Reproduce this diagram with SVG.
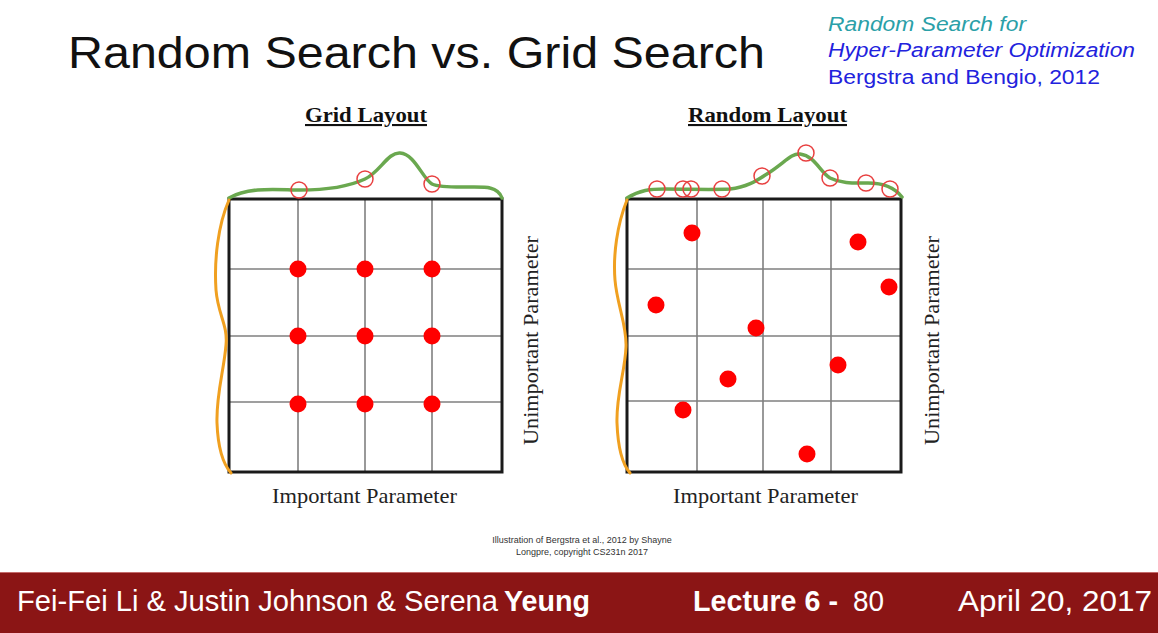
<svg xmlns="http://www.w3.org/2000/svg" width="1158" height="633" viewBox="0 0 1158 633">
<style>
.grid{stroke:#808080;stroke-width:1.6;fill:none}
.box{stroke:#1a1a1a;stroke-width:3;fill:none}
.green{stroke:#6aa84f;stroke-width:3.5;fill:none;stroke-linecap:round}
.orange{stroke:#f0a020;stroke-width:3;fill:none;stroke-linecap:round}
.ring{stroke:#e84040;stroke-width:1.5;fill:none}
.dot{fill:#ff0000}
.ttl{font-family:"Liberation Serif",serif;font-weight:bold;font-size:21px;text-decoration:underline;fill:#111}
.axis{font-family:"Liberation Serif",serif;font-size:21px;fill:#222}
.foot{font-family:"Liberation Sans",Arial,sans-serif;fill:#fff;font-size:29px}
.fb{font-weight:bold}
</style>
<rect width="1158" height="633" fill="#fff"/>
<g id="title">
<text x="68" y="68" font-family="Liberation Sans,Arial,sans-serif" font-size="44" fill="#111" textLength="697" lengthAdjust="spacingAndGlyphs">Random Search vs. Grid Search</text>
</g>
<g id="reference" font-family="Liberation Sans,Arial,sans-serif" font-size="20">
<text x="828" y="31" fill="#2aa0a8" font-style="italic" textLength="198" lengthAdjust="spacingAndGlyphs">Random Search for</text>
<text x="828" y="57" fill="#2222dd" font-style="italic" textLength="307" lengthAdjust="spacingAndGlyphs">Hyper-Parameter Optimization</text>
<text x="828" y="84" fill="#2222dd" textLength="272" lengthAdjust="spacingAndGlyphs">Bergstra and Bengio, 2012</text>
</g>
<g id="grid-layout">
<text class="ttl" x="305" y="122" textLength="122" lengthAdjust="spacingAndGlyphs">Grid Layout</text>
<path class="grid" d="M298 199V473M365 199V473M432 199V473M229 269H502M229 336H502M229 402H502"/>
<rect class="box" x="229" y="199" width="273" height="273"/>
<path class="green" d="M229 198 C250 186 280 190 300 190 C330 190 350 186 365 179 C380 172 388 152 400 153 C415 154 422 178 432 184 C445 190 480 185 490 188 C498 190 501 195 502 198"/>
<path class="orange" d="M229 200 C218 225 214 260 216 290 C218 315 228 325 226 345 C224 370 216 395 217 423 C218 450 224 465 231 473"/>
<circle class="ring" cx="299" cy="190" r="8"/>
<circle class="ring" cx="365" cy="179" r="8"/>
<circle class="ring" cx="432" cy="184" r="8"/>
<g class="dot">
<circle cx="298" cy="269" r="8.5"/><circle cx="365" cy="269" r="8.5"/><circle cx="432" cy="269" r="8.5"/>
<circle cx="298" cy="336" r="8.5"/><circle cx="365" cy="336" r="8.5"/><circle cx="432" cy="336" r="8.5"/>
<circle cx="298" cy="404" r="8.5"/><circle cx="365" cy="404" r="8.5"/><circle cx="432" cy="404" r="8.5"/>
</g>
<text class="axis" x="272" y="503" textLength="185" lengthAdjust="spacingAndGlyphs">Important Parameter</text>
<text class="axis" transform="translate(538 445) rotate(-90)" textLength="209" lengthAdjust="spacingAndGlyphs">Unimportant Parameter</text>
</g>
<g id="random-layout">
<text class="ttl" x="688" y="122" textLength="159" lengthAdjust="spacingAndGlyphs">Random Layout</text>
<path class="grid" d="M697 199V473M763 199V473M831 199V473M627 269H901M627 336H901M627 401H901"/>
<rect class="box" x="627" y="199" width="274" height="273"/>
<path class="green" d="M627 198 C640 190 650 189 665 189 C690 189 710 190 730 189 C750 187 760 178 770 172 C785 162 792 153 800 154 C815 156 820 172 830 178 C842 184 855 183 868 183 C885 183 895 188 902 197"/>
<path class="orange" d="M627 200 C617 225 613 255 615 280 C617 305 627 325 626 347 C625 372 616 395 617 423 C618 450 623 465 630 473"/>
<g>
<circle class="ring" cx="657" cy="189" r="8"/><circle class="ring" cx="683" cy="189" r="8"/><circle class="ring" cx="691" cy="189" r="8"/>
<circle class="ring" cx="722" cy="189" r="8"/><circle class="ring" cx="762" cy="176" r="8"/><circle class="ring" cx="806" cy="153" r="8"/>
<circle class="ring" cx="830" cy="178" r="8"/><circle class="ring" cx="866" cy="183" r="8"/><circle class="ring" cx="890" cy="189" r="8"/>
</g>
<g class="dot">
<circle cx="692" cy="233" r="8.5"/><circle cx="858" cy="242" r="8.5"/><circle cx="889" cy="287" r="8.5"/>
<circle cx="656" cy="305" r="8.5"/><circle cx="756" cy="328" r="8.5"/><circle cx="838" cy="365" r="8.5"/>
<circle cx="728" cy="379" r="8.5"/><circle cx="683" cy="410" r="8.5"/><circle cx="807" cy="454" r="8.5"/>
</g>
<text class="axis" x="673" y="503" textLength="185" lengthAdjust="spacingAndGlyphs">Important Parameter</text>
<text class="axis" transform="translate(939 445) rotate(-90)" textLength="209" lengthAdjust="spacingAndGlyphs">Unimportant Parameter</text>
</g>
<g id="caption" font-family="Liberation Sans,Arial,sans-serif" font-size="9" fill="#333" text-anchor="middle">
<text x="582" y="543">Illustration of Bergstra et al., 2012 by Shayne</text>
<text x="582" y="555">Longpre, copyright CS231n 2017</text>
</g>
<g id="footer">
<rect x="0" y="572" width="1158" height="61" fill="#8b1515"/>
<line x1="0" y1="572.5" x2="1158" y2="572.5" stroke="#c46a6a" stroke-width="1"/>
<text class="foot" x="17" y="611" textLength="481" lengthAdjust="spacingAndGlyphs">Fei-Fei Li &amp; Justin Johnson &amp; Serena</text>
<text class="foot fb" x="504" y="611" textLength="86" lengthAdjust="spacingAndGlyphs">Yeung</text>
<text class="foot fb" x="693" y="611" textLength="145" lengthAdjust="spacingAndGlyphs">Lecture 6 -</text>
<text class="foot" x="853" y="611" textLength="31" lengthAdjust="spacingAndGlyphs">80</text>
<text class="foot" x="958" y="611" textLength="194" lengthAdjust="spacingAndGlyphs">April 20, 2017</text>
</g>
</svg>
